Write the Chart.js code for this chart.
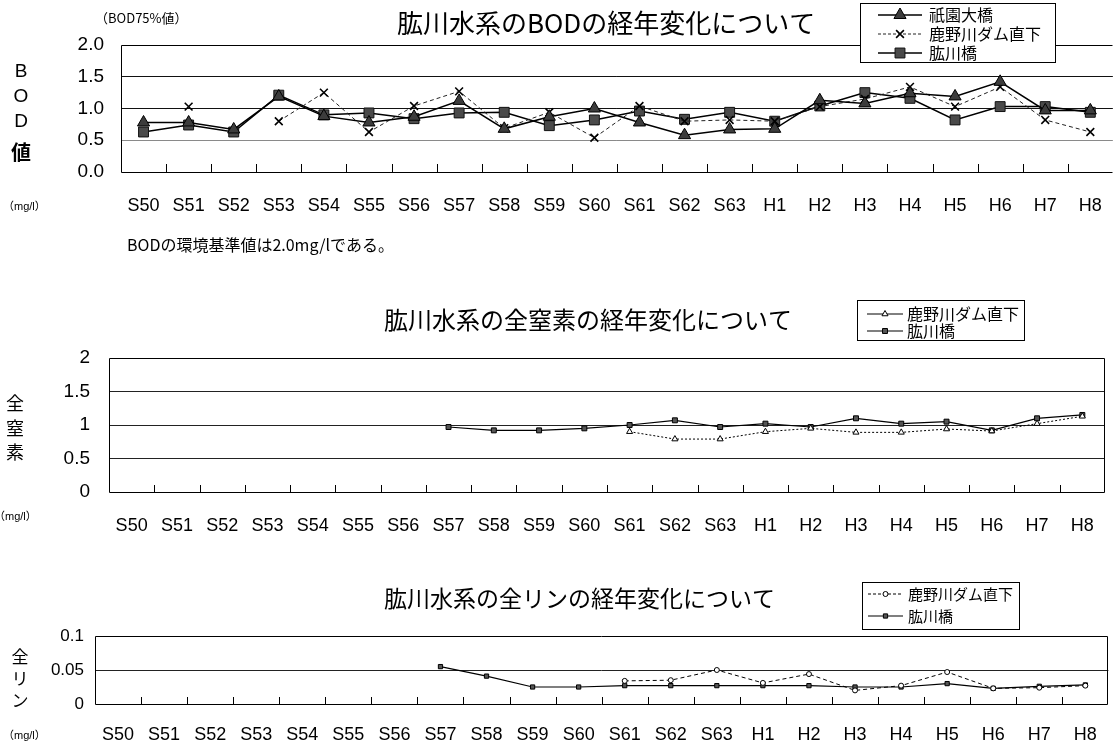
<!DOCTYPE html>
<html>
<head>
<meta charset="utf-8">
<script src="https://cdn.jsdelivr.net/npm/chart.js@4/dist/chart.umd.min.js"></script>
<style>
  html, body { margin: 0; padding: 0; background: #fff; overflow: hidden; width: 1117px; height: 747px; }
  canvas { position: absolute; left: 0; }
</style>
</head>
<body>
<canvas id="bod" width="1125" height="270" style="top:0px"></canvas>
<canvas id="tn" width="1117" height="280" style="top:270px"></canvas>
<canvas id="tp" width="1117" height="197" style="top:550px"></canvas>
<script>
// 年度
const years = ['S50','S51','S52','S53','S54','S55','S56','S57','S58','S59','S60',
               'S61','S62','S63','H1','H2','H3','H4','H5','H6','H7','H8'];

// BOD 75%値 (mg/l)
const bodGion     = [0.78, 0.78, 0.67, 1.19, 0.88, 0.78, 0.87, 1.12, 0.68, 0.87, 1.00,
                     0.78, 0.58, 0.67, 0.68, 1.13, 1.08, 1.24, 1.19, 1.42, 0.97, 0.97];
const bodDam      = [null, 1.03, null, 0.80, 1.25, 0.63, 1.04, 1.27, 0.69, 0.94, 0.54,
                     1.04, 0.80, 0.82, 0.80, 1.03, 1.15, 1.34, 1.03, 1.34, 0.82, 0.63];
const bodHijikawa = [0.63, 0.74, 0.63, 1.21, 0.90, 0.93, 0.84, 0.93, 0.94, 0.73, 0.82,
                     0.96, 0.83, 0.94, 0.80, 1.04, 1.25, 1.16, 0.82, 1.03, 1.03, 0.94];

// 全窒素 (mg/l)
const tnDam       = [null, null, null, null, null, null, null, null, null, null, null,
                     0.90, 0.79, 0.79, 0.90, 0.95, 0.89, 0.89, 0.94, 0.91, 1.02, 1.13];
const tnHijikawa  = [null, null, null, null, null, null, null, 0.97, 0.92, 0.92, 0.95,
                     1.00, 1.07, 0.97, 1.02, 0.97, 1.10, 1.02, 1.05, 0.92, 1.10, 1.15];

// 全リン (mg/l)
const tpDam       = [null, null, null, null, null, null, null, null, null, null, null,
                     0.034, 0.035, 0.050, 0.031, 0.044, 0.020, 0.027, 0.047, 0.023, 0.024, 0.027];
const tpHijikawa  = [null, null, null, null, null, null, null, 0.055, 0.041, 0.025, 0.025,
                     0.027, 0.027, 0.027, 0.027, 0.027, 0.025, 0.025, 0.030, 0.023, 0.026, 0.028];

// 縦軸目盛
const bodTicks = ['0.0', '0.5', '1.0', '1.5', '2.0'];
const tnTicks  = ['0', '0.5', '1', '1.5', '2'];
const tpTicks  = ['0', '0.05', '0.1'];

const LATIN = '"Liberation Sans", "Noto Sans CJK JP", sans-serif';
const CJK = '"Noto Sans CJK JP", "Liberation Sans", sans-serif';

// 枠・目盛・文字・凡例を描く
const decor = {
  id: 'decor',
  beforeDatasetsDraw(chart, args, o) {
    const ctx = chart.ctx, a = chart.chartArea, xs = chart.scales.x;
    ctx.save();
    ctx.strokeStyle = '#000';
    ctx.lineWidth = 1;
    // 内向きの目盛線
    for (let i = 1; i < xs.ticks.length; i++) {
      const x = Math.round((xs.getPixelForTick(i - 1) + xs.getPixelForTick(i)) / 2) + 0.5;
      ctx.beginPath();
      ctx.moveTo(x, a.bottom);
      ctx.lineTo(x, a.bottom - o.tickLen);
      ctx.stroke();
    }
    // 枠
    const l = Math.round(a.left) + 0.5, r = Math.round(a.right) - 0.5;
    const t = Math.round(a.top) + 0.5, b = Math.round(a.bottom) + 0.5;
    ctx.beginPath();
    ctx.moveTo(r, t); ctx.lineTo(l, t); ctx.lineTo(l, b); ctx.lineTo(r, b);
    if (o.rightSide) { ctx.moveTo(r, t); ctx.lineTo(r, b); }
    ctx.stroke();
    ctx.restore();
  },
  afterDraw(chart, args, o) {
    const ctx = chart.ctx, dy = o.offsetY;
    ctx.save();
    ctx.fillStyle = '#000';
    ctx.textBaseline = 'middle';
    for (const t of o.texts) {
      ctx.font = t.font;
      ctx.textAlign = t.align || 'left';
      ctx.fillText(t.text, t.x, t.y - dy);
    }
    // 凡例
    const lg = o.legend;
    const [bx1, by1, bx2, by2] = lg.box;
    ctx.fillStyle = '#fff';
    ctx.fillRect(bx1, by1 - dy, bx2 - bx1, by2 - by1);
    ctx.strokeStyle = '#000';
    ctx.lineWidth = 1;
    ctx.strokeRect(bx1 + 0.5, by1 - dy + 0.5, bx2 - bx1 - 1, by2 - by1 - 1);
    chart.data.datasets.forEach((ds, i) => {
      const y = lg.rows[i] - dy;
      ctx.strokeStyle = ds.borderColor;
      ctx.lineWidth = ds.borderWidth;
      ctx.setLineDash(lg.dash[i]);
      ctx.beginPath();
      ctx.moveTo(lg.line[0], y);
      ctx.lineTo(lg.line[1], y);
      ctx.stroke();
      ctx.setLineDash([]);
      ctx.fillStyle = ds.pointBackgroundColor;
      ctx.strokeStyle = ds.pointBorderColor;
      ctx.lineWidth = ds.pointBorderWidth;
      Chart.helpers.drawPoint(ctx, {
        pointStyle: ds.pointStyle, radius: ds.pointRadius,
        rotation: 0, borderWidth: ds.pointBorderWidth
      }, (lg.line[0] + lg.line[1]) / 2, y);
      ctx.fillStyle = '#000';
      ctx.font = lg.font;
      ctx.textAlign = 'left';
      ctx.fillText(ds.label, lg.textX, y);
    });
    ctx.restore();
  }
};

function makeChart(id, c) {
  const canvas = document.getElementById(id);
  const H = canvas.height, W = canvas.width;
  return new Chart(canvas, {
    type: 'line',
    data: { labels: years, datasets: c.datasets },
    options: {
      responsive: false,
      animation: false,
      devicePixelRatio: 1,
      layout: { padding: { top: c.area.top - c.offsetY, right: W - c.area.right, left: 0, bottom: 0 } },
      plugins: {
        legend: { display: false },
        tooltip: { enabled: false },
        title: { display: false },
        decor: {
          offsetY: c.offsetY, tickLen: c.tickLen, rightSide: c.rightSide,
          texts: c.texts, legend: c.legend
        }
      },
      scales: {
        x: {
          type: 'category',
          offset: true,
          grid: { display: false, drawTicks: false },
          border: { display: false },
          ticks: {
            autoSkip: false, maxRotation: 0, minRotation: 0,
            padding: c.xPad, color: '#000',
            font: { family: LATIN, size: c.xFont }
          },
          afterFit(s) { s.height = H - (c.area.bottom - c.offsetY); }
        },
        y: {
          min: c.yMin, max: c.yMax,
          border: { display: false },
          grid: {
            drawTicks: false,
            lineWidth: 1,
            color: (g) => {
              const v = g.tick ? g.tick.value : 0;
              if (v <= c.yMin + 1e-9 || v >= c.yMax - 1e-9) return 'rgba(0,0,0,0)';
              return c.gridColor(v);
            }
          },
          ticks: {
            stepSize: c.yStep, padding: c.yPad, color: '#000',
            font: { family: LATIN, size: c.yFont },
            callback: (v, i) => c.yLabels[i]
          },
          afterFit(s) { s.width = c.area.left; }
        }
      },
      elements: { line: { tension: 0 } }
    },
    plugins: [decor]
  });
}

// BOD
makeChart('bod', {
  offsetY: 0,
  area: { left: 121, right: 1122, top: 45, bottom: 172 },
  yMin: 0, yMax: 2, yStep: 0.5, yLabels: bodTicks, yFont: 19, yPad: 17,
  xFont: 18, xPad: 23, tickLen: 8, rightSide: false,
  gridColor: (v) => Math.abs(v - 0.5) < 1e-6 ? '#8a8a8a' : '#111',
  datasets: [
    { label: '祇園大橋', data: bodGion, borderColor: '#000', borderWidth: 1.5,
      pointStyle: 'triangle', pointRadius: 7, pointBackgroundColor: '#3c3c3c',
      pointBorderColor: '#000', pointBorderWidth: 1 },
    { label: '鹿野川ダム直下', data: bodDam, borderColor: '#222', borderWidth: 1, borderDash: [4, 3],
      pointStyle: 'crossRot', pointRadius: 5.5, pointBackgroundColor: '#fff',
      pointBorderColor: '#000', pointBorderWidth: 1.6 },
    { label: '肱川橋', data: bodHijikawa, borderColor: '#000', borderWidth: 1.5,
      pointStyle: 'rect', pointRadius: 7, pointBackgroundColor: '#4a4a4a',
      pointBorderColor: '#111', pointBorderWidth: 1 }
  ],
  texts: [
    { text: '肱川水系のBODの経年変化について', x: 397, y: 23, font: '26px ' + CJK },
    { text: '（BOD75%値）', x: 95, y: 18, font: '13px ' + CJK },
    { text: 'B', x: 21, y: 72, font: '19px ' + LATIN, align: 'center' },
    { text: 'O', x: 21, y: 97, font: '19px ' + LATIN, align: 'center' },
    { text: 'D', x: 21, y: 122, font: '19px ' + LATIN, align: 'center' },
    { text: '値', x: 21, y: 152, font: 'bold 20px ' + CJK, align: 'center' },
    { text: '（mg/l）', x: 3, y: 207, font: '11px ' + LATIN },
    { text: 'BODの環境基準値は2.0mg/lである。', x: 127, y: 245, font: '16px ' + CJK }
  ],
  legend: {
    box: [860, 3, 1056, 63], rows: [15, 34, 53], line: [878, 922], textX: 929,
    dash: [[], [3, 2], []], font: '16px ' + CJK
  }
});

// 全窒素
makeChart('tn', {
  offsetY: 270,
  area: { left: 109, right: 1110, top: 358, bottom: 492 },
  yMin: 0, yMax: 2, yStep: 0.5, yLabels: tnTicks, yFont: 19, yPad: 19,
  xFont: 18, xPad: 23, tickLen: 7, rightSide: true,
  gridColor: () => '#222',
  datasets: [
    { label: '鹿野川ダム直下', data: tnDam, borderColor: '#000', borderWidth: 1, borderDash: [2, 2],
      pointStyle: 'triangle', pointRadius: 3.5, pointBackgroundColor: '#fff',
      pointBorderColor: '#000', pointBorderWidth: 1 },
    { label: '肱川橋', data: tnHijikawa, borderColor: '#000', borderWidth: 1.2,
      pointStyle: 'rect', pointRadius: 3.5, pointBackgroundColor: '#555',
      pointBorderColor: '#000', pointBorderWidth: 1 }
  ],
  texts: [
    { text: '肱川水系の全窒素の経年変化について', x: 384, y: 320, font: '24px ' + CJK },
    { text: '全', x: 15, y: 403, font: '18px ' + CJK, align: 'center' },
    { text: '窒', x: 15, y: 428, font: '18px ' + CJK, align: 'center' },
    { text: '素', x: 15, y: 452, font: '18px ' + CJK, align: 'center' },
    { text: '（mg/l）', x: -6, y: 517, font: '11px ' + LATIN },
  ],
  legend: {
    box: [857, 300, 1025, 341], rows: [314, 331], line: [867, 903], textX: 907,
    dash: [[], []], font: '16px ' + CJK
  }
});

// 全リン
makeChart('tp', {
  offsetY: 550,
  area: { left: 95, right: 1110, top: 636, bottom: 704 },
  yMin: 0, yMax: 0.1, yStep: 0.05, yLabels: tpTicks, yFont: 17, yPad: 11,
  xFont: 18, xPad: 20, tickLen: 7, rightSide: true,
  gridColor: () => '#222',
  datasets: [
    { label: '鹿野川ダム直下', data: tpDam, borderColor: '#000', borderWidth: 1, borderDash: [4, 3],
      pointStyle: 'circle', pointRadius: 2.5, pointBackgroundColor: '#fff',
      pointBorderColor: '#000', pointBorderWidth: 1 },
    { label: '肱川橋', data: tpHijikawa, borderColor: '#000', borderWidth: 1.2,
      pointStyle: 'rect', pointRadius: 3, pointBackgroundColor: '#555',
      pointBorderColor: '#000', pointBorderWidth: 1 }
  ],
  texts: [
    { text: '肱川水系の全リンの経年変化について', x: 384, y: 598, font: '23px ' + CJK },
    { text: '全', x: 20, y: 657, font: '17px ' + CJK, align: 'center' },
    { text: 'リ', x: 20, y: 679, font: '17px ' + CJK, align: 'center' },
    { text: 'ン', x: 20, y: 701, font: '17px ' + CJK, align: 'center' },
    { text: '（mg/l）', x: 3, y: 736, font: '11px ' + LATIN }
  ],
  legend: {
    box: [862, 582, 1020, 630], rows: [594, 616], line: [868, 903], textX: 908,
    dash: [[3, 2], []], font: '15px ' + CJK
  }
});
</script>
</body>
</html>
